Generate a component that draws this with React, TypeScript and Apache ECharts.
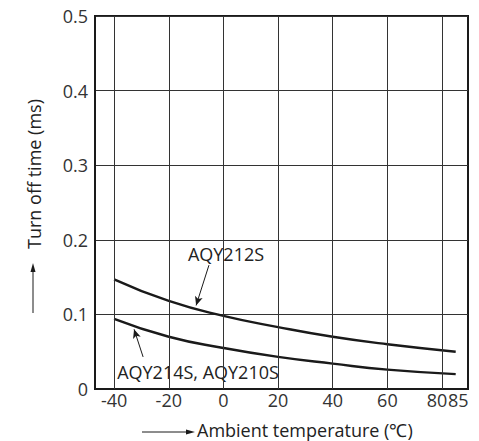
import React, { useEffect, useRef } from "react";
import * as echarts from "echarts";

const temps = [-40, -20, 0, 20, 40, 60, 85];
const aqy212s = [0.147, 0.118, 0.098, 0.083, 0.07, 0.06, 0.05];
const aqy214s = [0.094, 0.07, 0.055, 0.043, 0.034, 0.026, 0.02];
const xTickLabels = [-40, -20, 0, 20, 40, 60, 80, 85];
const xGridLines = [-40, -20, 0, 20, 40, 60, 80];
const seriesNames = ["AQY212S", "AQY214S, AQY210S"];

const FONT = "Open Sans";
const FS = 18;

export default function App() {
  const ref = useRef<HTMLDivElement>(null);
  useEffect(() => {
    if (!ref.current) return;
    const chart = echarts.init(ref.current, undefined, { renderer: "svg" });
    const lineStyle = { color: "#1a1a1a", width: 2.4 };
    chart.setOption({
      animation: false,
      backgroundColor: "#fff",
      grid: {
        left: 95,
        top: 16,
        right: 11,
        bottom: 52,
        show: true,
        borderColor: "#1a1a1a",
        borderWidth: 2,
        outerBoundsMode: "none",
        containLabel: false,
      },
      xAxis: {
        type: "value",
        min: -47,
        max: 89.5,
        axisLine: { show: true, onZero: false, lineStyle: { color: "#1a1a1a", width: 2 } },
        axisTick: { show: false },
        splitLine: { show: false },
        axisLabel: {
          customValues: xTickLabels,
          color: "#333",
          fontFamily: FONT,
          fontSize: FS,
          margin: 2,
          hideOverlap: false,
          showMinLabel: true,
          showMaxLabel: true,
          formatter: (v: number) =>
            v === 80 ? "{l|80}" : v === 85 ? "{r|85}" : String(v),
          rich: {
            l: { fontFamily: FONT, fontSize: FS, color: "#333", padding: [0, 10, 0, 0] },
            r: { fontFamily: FONT, fontSize: FS, color: "#333", padding: [0, 0, 0, 5] },
          },
        },
      },
      yAxis: {
        type: "value",
        min: 0,
        max: 0.5,
        interval: 0.1,
        axisLine: { show: true, onZero: false, lineStyle: { color: "#1a1a1a", width: 2 } },
        axisTick: { show: false },
        splitLine: { show: true, lineStyle: { color: "#333", width: 1 } },
        axisLabel: {
          color: "#333",
          fontFamily: FONT,
          fontSize: FS,
          margin: 7,
          formatter: (v: number) => (v === 0 ? "0" : v.toFixed(1)),
        },
      },
      series: [
        {
          name: seriesNames[0],
          type: "line",
          smooth: true,
          showSymbol: false,
          lineStyle,
          data: temps.map((t, i) => [t, aqy212s[i]]),
          markLine: {
            silent: true,
            symbol: "none",
            label: { show: false },
            lineStyle: { color: "#333", width: 1, type: "solid" },
            data: xGridLines.map((x) => ({ xAxis: x })),
          },
        },
        {
          name: seriesNames[1],
          type: "line",
          smooth: true,
          showSymbol: false,
          lineStyle,
          data: temps.map((t, i) => [t, aqy214s[i]]),
          markLine: {
            silent: true,
            symbol: ["none", "arrow"],
            symbolSize: [6, 9],
            label: { show: false },
            lineStyle: { color: "#1a1a1a", width: 1, type: "solid" },
            data: [
              [{ coord: [-5.3, 0.166] }, { coord: [-10, 0.112] }],
              [{ coord: [-29.4, 0.043] }, { coord: [-32.7, 0.08] }],
            ],
          },
        },
      ],
      graphic: [
        {
          type: "text",
          x: 226,
          y: 254,
          style: {
            text: seriesNames[0],
            font: `${FS}px "${FONT}"`,
            fill: "#222",
            align: "center",
            verticalAlign: "middle",
          },
        },
        {
          type: "text",
          x: 198,
          y: 372,
          style: {
            text: seriesNames[1],
            font: `${FS}px "${FONT}"`,
            fill: "#222",
            align: "center",
            verticalAlign: "middle",
            backgroundColor: "#fff",
          },
        },
        {
          type: "text",
          x: 34,
          y: 174,
          rotation: Math.PI / 2,
          style: {
            text: "Turn off time (ms)",
            font: `${FS}px "${FONT}"`,
            fill: "#222",
            align: "center",
            verticalAlign: "middle",
          },
        },
        {
          type: "line",
          shape: { x1: 33, y1: 313, x2: 33, y2: 270 },
          style: { stroke: "#1a1a1a", lineWidth: 1 },
        },
        {
          type: "polygon",
          shape: { points: [[33, 263], [30.5, 272], [35.5, 272]] },
          style: { fill: "#1a1a1a" },
        },
        {
          type: "text",
          x: 197,
          y: 430,
          style: {
            text: "Ambient temperature (℃)",
            font: `${FS}px "${FONT}"`,
            fill: "#222",
            align: "left",
            verticalAlign: "middle",
          },
        },
        {
          type: "line",
          shape: { x1: 142, y1: 432, x2: 188, y2: 432 },
          style: { stroke: "#1a1a1a", lineWidth: 1 },
        },
        {
          type: "polygon",
          shape: { points: [[195, 432], [186, 429.5], [186, 434.5]] },
          style: { fill: "#1a1a1a" },
        },
      ],
    });
    return () => chart.dispose();
  }, []);
  return (
    <div
      ref={ref}
      style={{ position: "absolute", left: 0, top: 0, width: 479, height: 441 }}
    />
  );
}
